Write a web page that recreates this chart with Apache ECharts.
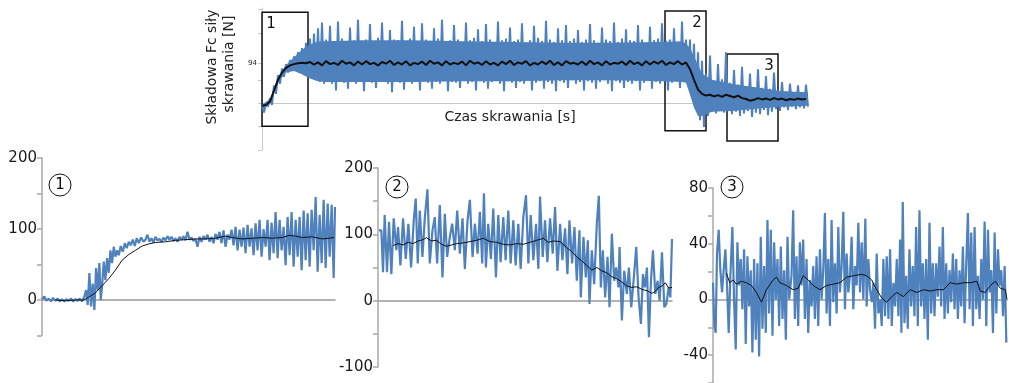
<!DOCTYPE html>
<html>
<head>
<meta charset="utf-8">
<script src="https://cdn.jsdelivr.net/npm/echarts@6/dist/echarts.min.js"></script>
<style>
html, body { margin: 0; background: #fff; }
#main { width: 1009px; height: 383px; }
</style>
</head>
<body>
<div id="main"></div>
<script>
// cały przebieg - obwiednia sygnału co 4 próbki [N]
var topStep = 4
var topHi = [-5, 0, 12, 42, 66, 82, 92, 102, 110, 120, 130, 142, 152, 164, 176, 190,
  150, 182, 146, 192, 152, 144, 178, 148, 196, 142, 150, 186, 146, 154, 190, 144, 172, 150, 148, 194,
  146, 152, 180, 144, 188, 150, 146, 176, 152, 196, 144, 148, 184, 150, 142, 190, 148, 154, 174, 146,
  186, 150, 144, 192, 148, 152, 178, 146, 150, 188, 142, 148, 182, 154, 146, 194, 150, 144, 176, 148,
  184, 146, 152, 172, 144, 150, 186, 148, 142, 178, 150, 146, 190, 144, 152, 174, 148, 146, 184, 150,
  142, 180, 148, 152, 188, 146, 150, 176, 144, 192, 150,
  150, 140, 120, 100, 70, 112, 50, 92, 56, 120, 48, 78, 44, 86, 40, 70, 38, 80, 36, 64, 34, 72, 30, 50, 28, 46, 26, 42, 24, 44]
var topLo = [-22, -8, -4, 22, 46, 62, 72, 78, 76, 72, 66, 62, 58, 54, 50, 46,
  50, 46, 30, 52, 48, 34, 54, 46, 50, 28, 52, 48, 36, 50, 54, 46, 26, 50, 48, 32,
  52, 46, 50, 30, 54, 48, 34, 50, 46, 52, 28, 50, 48, 36, 54, 46, 50, 30, 52, 48,
  34, 50, 54, 46, 28, 52, 48, 36, 50, 46, 54, 30, 48, 52, 34, 50, 46, 28, 52, 48,
  36, 54, 46, 50, 30, 52, 48, 34, 50, 54, 46, 28, 52, 48, 36, 50, 46, 52, 30, 48,
  54, 34, 50, 46, 52, 30, 48, 54, 36, 50, 52,
  20, -10, -40, -56, -30, -20, -24, -16, -22, -18, -26, -20, -30, -24, -18, -32, -22, -26, -16, -28, -20, -14, -18, -10, -16, -8, -14, -10, -12, -8]
// zwarty rdzeń pasma (bez szpilek)
var topBodyX = [0, 8, 16, 24, 32, 40, 48, 56, 64, 100, 150, 200, 250, 300, 350, 400, 420, 424, 428, 432, 436, 440, 450, 470, 500, 520, 546]
var topBodyLo = [-15, -2, 48, 72, 76, 68, 58, 52, 50, 50, 50, 52, 52, 54, 54, 52, 50, 48, 20, -10, -30, -30, -20, -18, -12, -8, -6]
var topBodyHi = [-3, 10, 62, 90, 108, 126, 138, 145, 146, 148, 148, 146, 144, 142, 142, 144, 146, 140, 130, 110, 90, 70, 55, 45, 35, 28, 26]
var topMean = [-6, -4, 4, 30, 55, 72, 83, 89, 92, 94, 95, 94,
  97, 91, 96, 89, 99, 92, 95, 90, 100, 93, 96, 89, 98, 91, 99, 92, 95, 89, 97, 93,
  100, 90, 96, 91, 99, 89, 95, 92, 98, 90, 100, 93, 96, 89, 99, 91, 95, 92, 98, 89,
  100, 93, 96, 90, 99, 91, 95, 89, 98, 92, 100, 90, 96, 93, 99, 89, 95, 91, 98, 92,
  100, 90, 96, 89, 99, 93, 95, 91, 98, 90, 100, 92, 96, 89, 99, 91, 95, 93, 98, 90,
  100, 92, 96, 89, 99, 91, 98, 93, 100, 90, 96, 92, 99, 91, 96,
  80, 55, 32, 22, 18, 20, 16, 19, 15, 20, 17, 14, 18, 12, 10, 6, 8, 12, 9, 11, 8, 12, 9, 11, 7, 10, 8, 11, 9, 10]
var topTicks = [-110, -55, 0, 55, 94, 165, 220]
// ramki fragmentów [x od, y góra, x do, y dół]
var boxes = [['1', 0, 214, 46, -54], ['2', 403, 217, 444, -65], ['3', 465, 116, 516, -89]]

// fragment 1 - [próbka, N]
var c1Signal = [[130,1],[137,5],[143,-1],[150,2],[157,-2],[163,3],[170,-1],[177,2],[183,-2],[190,1],[197,-2],[203,1],[210,-1],[217,2],[223,-2],[230,1],[237,-1],[243,2],[250,-2],[257,5],[262,14],[267,-7],[272,38],[277,-9],[282,23],[287,-14],[292,45],[297,14],[302,52],[306,0],[310,19],[315,54],[320,28],[325,59],[330,38],[335,70],[340,52],[345,75],[350,61],[355,70],[360,63],[366,76],[372,68],[378,80],[384,73],[390,82],[396,77],[402,85],[408,76],[414,87],[420,80],[427,88],[434,82],[440,85],[446,92],[452,82],[458,87],[464,81],[470,89],[476,84],[482,86],[488,82],[494,88],[500,84],[506,90],[512,85],[518,89],[524,83],[530,87],[536,82],[542,89],[548,85],[554,90],[560,84],[566,96],[572,85],[578,88],[584,83],[590,86],[596,75],[602,89],[608,82],[614,90],[620,85],[626,92],[632,82],[638,89],[644,80],[650,93],[656,85],[662,96],[668,80],[674,98],[680,75],[686,92],[692,85],[698,99],[704,77],[710,103],[716,70],[722,99],[728,75],[734,102],[740,66],[746,106],[752,75],[758,101],[764,63],[770,108],[776,70],[782,113],[788,61],[794,100],[800,75],[806,113],[812,56],[818,109],[824,66],[830,124],[836,59],[842,113],[848,70],[854,103],[860,49],[866,117],[872,63],[878,124],[884,47],[890,113],[896,61],[902,117],[908,42],[914,126],[920,56],[926,122],[932,47],[938,127],[944,70],[950,145],[956,40],[962,120],[968,52],[974,141],[980,45],[986,136],[992,61],[998,134],[1004,31],[1008,131]]
var c1Mean = [[170,0],[200,-1],[230,0],[255,0],[270,4],[290,10],[310,20],[330,30],[350,42],[370,56],[390,64],[410,70],[430,76],[450,79],[470,81],[500,82],[530,84],[560,85],[590,86],[620,86],[650,87],[680,90],[700,88],[730,86],[760,87],[790,88],[820,87],[850,88],[870,91],[890,90],[910,88],[940,89],[970,86],[990,87],[1005,88]]

// fragment 2
var c2Signal = [[148,106],[155,106],[160,43],[165,129],[172,43],[178,119],[185,40],[192,124],[200,76],[205,111],[212,53],[220,124],[228,63],[236,116],[244,50],[252,121],[258,154],[264,56],[270,136],[278,66],[285,124],[293,168],[300,56],[308,106],[315,126],[322,56],[330,144],[338,35],[345,131],[352,66],[360,96],[367,116],[375,76],[382,136],[390,71],[398,124],[405,48],[413,121],[420,152],[428,66],[435,116],[443,71],[450,134],[457,56],[462,162],[468,50],[475,116],[483,63],[490,139],[498,35],[505,129],[512,58],[520,126],[527,61],[535,136],[542,56],[550,121],[557,53],[565,116],[572,48],[580,126],[588,159],[595,56],[602,129],[610,61],[618,116],[625,48],[630,157],[638,66],[645,121],[652,58],[660,124],[668,71],[675,141],[682,45],[690,116],[697,61],[705,109],[712,40],[718,121],[726,56],[733,111],[740,30],[748,106],[752,5],[760,96],[767,35],[773,91],[778,-5],[785,76],[792,25],[800,116],[806,158],[812,20],[818,76],[825,5],[832,66],[838,-10],[845,101],[852,30],[858,50],[865,20],[868,81],[875,-30],[882,45],[890,10],[896,50],[903,-10],[910,30],[918,81],[925,5],[932,-35],[938,40],[944,20],[950,50],[956,-55],[962,30],[968,76],[975,10],[982,30],[988,0],[995,73],[1002,-10],[1008,-5],[1015,20],[1020,5],[1025,93]]
var c2Mean = [[190,83],[205,86],[220,84],[235,88],[250,86],[265,90],[280,92],[290,95],[305,90],[320,91],[335,85],[350,82],[365,84],[380,86],[400,87],[420,89],[440,91],[460,94],[480,89],[500,88],[520,85],[540,84],[560,86],[580,85],[600,88],[620,91],[640,94],[655,88],[670,90],[690,89],[710,80],[725,74],[740,66],[755,60],[770,53],[785,46],[800,50],[815,45],[830,42],[845,36],[860,33],[875,28],[890,22],[905,20],[920,21],[935,17],[950,15],[965,11],[975,14],[985,20],[995,22],[1005,27],[1015,19],[1025,20]]

// fragment 3
var c3Signal = [[100,12],[104,-19],[108,-24],[112,33],[117,50],[122,21],[127,5],[132,21],[137,36],[142,10],[147,-24],[152,17],[158,52],[163,0],[168,-36],[173,41],[178,10],[183,29],[188,-7],[193,36],[198,-32],[203,31],[208,-5],[213,21],[218,-38],[223,29],[228,-29],[233,26],[238,-41],[243,45],[248,-21],[253,24],[258,-24],[263,57],[268,-10],[273,50],[278,-26],[283,41],[288,0],[293,29],[298,-19],[303,38],[308,-14],[313,21],[318,-29],[323,45],[328,0],[335,17],[340,64],[345,-14],[350,31],[355,-19],[360,41],[365,10],[370,43],[375,-14],[380,29],[385,-24],[390,14],[395,-5],[400,24],[405,-14],[410,31],[415,-19],[420,36],[425,0],[430,21],[435,62],[440,-10],[445,29],[450,-19],[455,57],[460,-2],[465,26],[470,-10],[475,52],[480,5],[485,24],[490,63],[495,-7],[500,33],[505,5],[510,17],[515,45],[520,-7],[525,24],[530,10],[535,55],[540,5],[545,41],[550,0],[556,58],[560,-5],[565,29],[570,7],[575,-2],[580,12],[585,-21],[590,33],[595,-10],[600,0],[605,-19],[610,29],[615,-12],[620,31],[625,-14],[630,36],[635,-19],[640,12],[645,-5],[650,29],[655,-12],[660,43],[664,-24],[668,70],[673,-17],[678,17],[683,-21],[688,36],[693,-5],[698,24],[703,-12],[708,52],[713,-19],[718,64],[723,-5],[728,26],[733,-14],[738,29],[743,-29],[748,55],[753,-10],[758,26],[763,-12],[768,26],[773,2],[778,38],[783,-5],[788,52],[793,-14],[798,26],[803,-10],[808,21],[813,-2],[818,33],[823,-7],[828,29],[833,-14],[838,21],[843,-5],[848,38],[853,-17],[858,26],[863,62],[868,-7],[873,48],[878,-19],[883,52],[888,-7],[893,17],[898,-14],[903,29],[908,0],[913,56],[918,-19],[923,50],[928,5],[933,21],[938,-24],[943,48],[948,-10],[953,36],[958,10],[963,21],[968,-12],[973,24],[978,-31]]
var c3Mean = [[140,19],[150,12],[160,14],[170,11],[185,13],[200,12],[215,10],[230,5],[245,-2],[260,7],[280,14],[290,16],[300,12],[320,10],[340,7],[355,8],[370,17],[385,14],[400,10],[420,7],[440,10],[460,11],[480,12],[500,16],[520,17],[545,18],[560,17],[575,14],[590,7],[605,1],[620,-2],[635,2],[650,5],[670,2],[690,7],[710,5],[730,7],[750,6],[770,7],[790,7],[810,12],[830,11],[850,12],[870,12],[890,13],[900,6],[915,5],[930,10],[945,13],[960,8],[975,7],[980,0]]

var FONT = 'DejaVu Sans'
var BLUE = '#4F81BD'

// pasmo rysowane jako zygzak: szczyt i dolina na zmianę
var topBand = []
var topMeanData = []
for (var i = 0; i < topHi.length; i++) {
    topBand.push([i * topStep, topHi[i]])
    topBand.push([i * topStep + topStep / 2, topLo[i]])
    topMeanData.push([i * topStep, topMean[i]])
}

// rdzeń pasma jako wielokąt: góra w prawo, dół z powrotem
function renderBody(params, api) {
    var pts = []
    for (var k = 0; k < topBodyX.length; k++) pts.push(api.coord([topBodyX[k], topBodyHi[k]]))
    for (var k = topBodyX.length - 1; k >= 0; k--) pts.push(api.coord([topBodyX[k], topBodyLo[k]]))
    return { type: 'polygon', shape: { points: pts }, style: { fill: BLUE } }
}

var boxData = boxes.map(function (b) {
    return [{
        name: b[0], coord: [b[1], b[2]],
        label: { position: b[0] === '1' ? 'insideTopLeft' : 'insideTopRight' }
    }, { coord: [b[3], b[4]] }]
})

function bottomY(grid, min, max, interval, every) {
    return {
        gridIndex: grid, type: 'value', min: min, max: max, interval: interval,
        axisLine: { show: true, lineStyle: { color: '#a8a8a8', width: 1.5 } },
        axisTick: { show: true, length: 5, lineStyle: { color: '#a8a8a8', width: 1.5 } },
        axisLabel: {
            fontFamily: FONT, fontSize: 15, color: '#1a1a1a', margin: 5,
            formatter: function (v) { return v % every === 0 ? String(v) : '' }
        },
        splitLine: { show: false }
    }
}
function bottomX(grid, min, max) {
    return {
        gridIndex: grid, type: 'value', min: min, max: max,
        axisLine: { onZero: true, lineStyle: { color: '#9a9a9a', width: 1.5 } },
        axisTick: { show: false }, axisLabel: { show: false }, splitLine: { show: false }
    }
}
function line(idx, data, color, width) {
    return {
        type: 'line', xAxisIndex: idx, yAxisIndex: idx, data: data,
        symbol: 'none', lineStyle: { color: color, width: width }, z: color === BLUE ? 2 : 3
    }
}
function circled(cx, cy, txt) {
    return [
        { type: 'circle', shape: { cx: cx, cy: cy, r: 11 }, style: { fill: '#fff', stroke: '#111', lineWidth: 1 }, z: 50 },
        { type: 'text', x: cx, y: cy, z: 51, style: { text: txt, font: '15px ' + FONT, fill: '#111', textAlign: 'center', textVerticalAlign: 'middle' } }
    ]
}

var myChart = echarts.init(document.getElementById('main'))
myChart.setOption({
    animation: false,
    grid: [
        { left: 262, top: 8, width: 546, height: 142 },
        { left: 42, top: 158, width: 293, height: 177.5 },
        { left: 378, top: 168, width: 294, height: 199 },
        { left: 713, top: 188, width: 294, height: 196 }
    ],
    xAxis: [
        {
            gridIndex: 0, type: 'value', min: 0, max: 546,
            axisLine: { onZero: true, lineStyle: { color: '#c8c8c8', width: 1 } },
            axisTick: { show: false }, axisLabel: { show: false }, splitLine: { show: false }
        },
        bottomX(1, 130, 1008),
        bottomX(2, 145, 1025),
        bottomX(3, 100, 980)
    ],
    yAxis: [
        {
            gridIndex: 0, type: 'value', min: -110, max: 224,
            axisLine: { show: true, lineStyle: { color: '#c8c8c8' } },
            axisTick: { show: true, length: 4, customValues: topTicks, lineStyle: { color: '#c8c8c8' } },
            axisLabel: { customValues: [94], fontFamily: FONT, fontSize: 7, color: '#222', margin: 5 },
            splitLine: { show: false }
        },
        bottomY(1, -50, 200, 50, 100),
        bottomY(2, -100, 200, 50, 100),
        bottomY(3, -60, 80, 20, 40)
    ],
    series: [
        {
            type: 'custom', xAxisIndex: 0, yAxisIndex: 0, data: [[0, 0]],
            renderItem: renderBody, silent: true, z: 1
        },
        line(0, topBand, BLUE, 2),
        line(0, topMeanData, '#111', 2),
        {
            type: 'line', xAxisIndex: 0, yAxisIndex: 0, data: [], z: 10, silent: true,
            markArea: {
                silent: true,
                itemStyle: { color: 'rgba(0,0,0,0)', borderColor: '#111', borderWidth: 1.5 },
                label: { show: true, color: '#111', fontFamily: FONT, fontSize: 15, distance: 5 },
                data: boxData
            }
        },
        line(1, c1Signal, BLUE, 2.2),
        line(1, c1Mean, '#111', 1),
        line(2, c2Signal, BLUE, 2.2),
        line(2, c2Mean, '#111', 1),
        line(3, c3Signal, BLUE, 2.2),
        line(3, c3Mean, '#111', 1)
    ],
    graphic: [
        { type: 'text', x: 212, y: 67, rotation: Math.PI / 2, style: { text: 'Składowa Fc siły', font: '14px ' + FONT, fill: '#222', textAlign: 'center', textVerticalAlign: 'middle' } },
        { type: 'text', x: 229, y: 64, rotation: Math.PI / 2, style: { text: 'skrawania [N]', font: '14px ' + FONT, fill: '#222', textAlign: 'center', textVerticalAlign: 'middle' } },
        { type: 'text', x: 510, y: 117, style: { text: 'Czas skrawania [s]', font: '14px ' + FONT, fill: '#222', textAlign: 'center', textVerticalAlign: 'middle' } }
    ].concat(circled(60, 185, '1'), circled(397, 187, '2'), circled(732, 187, '3'))
})
</script>
</body>
</html>
